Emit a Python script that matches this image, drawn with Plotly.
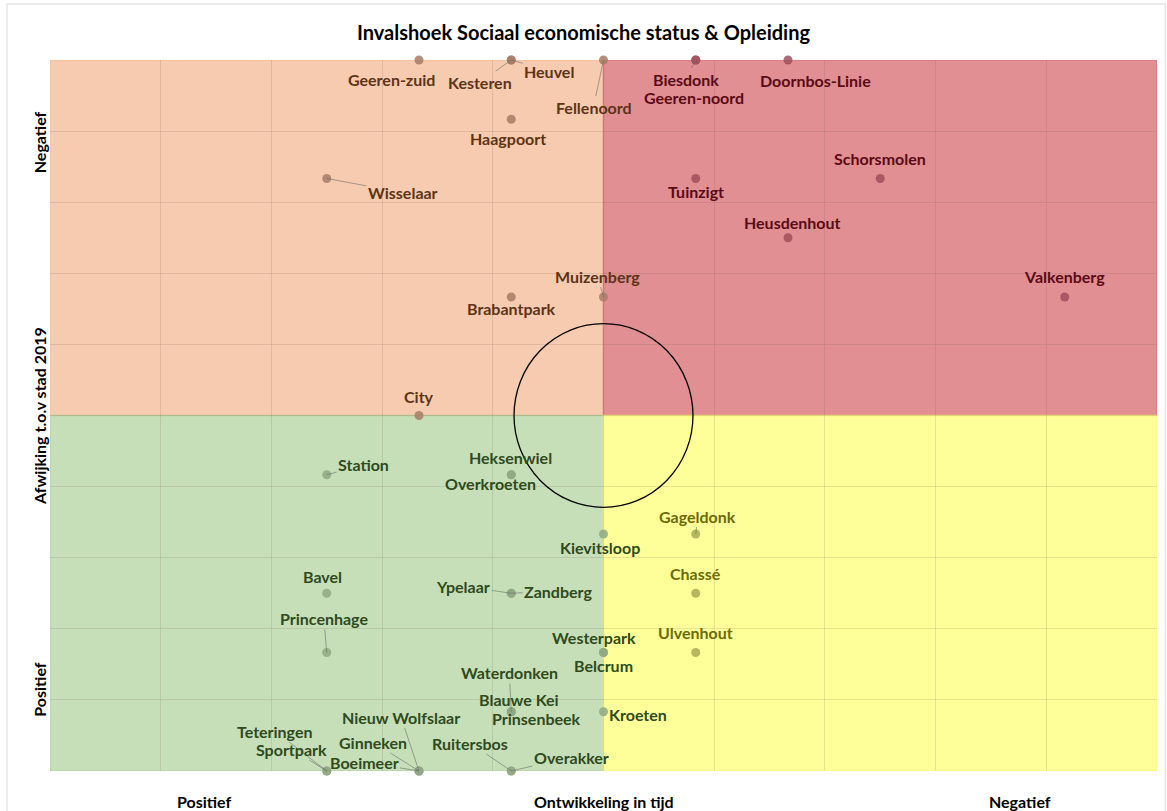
import plotly.graph_objects as go

# Wijken met positie (ontwikkeling in tijd, afwijking t.o.v. stad 2019)
wijken = ['Geeren-zuid', 'Kesteren', 'Heuvel', 'Fellenoord', 'Biesdonk', 'Geeren-noord',
          'Doornbos-Linie', 'Haagpoort', 'Wisselaar', 'Tuinzigt', 'Schorsmolen', 'Heusdenhout',
          'Valkenberg', 'Muizenberg', 'Brabantpark', 'City', 'Station', 'Heksenwiel',
          'Overkroeten', 'Kievitsloop', 'Gageldonk', 'Bavel', 'Ypelaar', 'Zandberg', 'Chassé',
          'Princenhage', 'Westerpark', 'Belcrum', 'Ulvenhout', 'Waterdonken', 'Blauwe Kei',
          'Prinsenbeek', 'Kroeten', 'Teteringen', 'Sportpark', 'Nieuw Wolfslaar', 'Ginneken',
          'Boeimeer', 'Ruitersbos', 'Overakker']
ontwikkeling = [-2, -1, -1, 0, 1, 1,
                2, -1, -3, 1, 3, 2,
                5, 0, -1, -2, -3, -1,
                -1, 0, 1, -3, -1, -1, 1,
                -3, 0, 0, 1, -1, -1,
                -1, 0, -3, -3, -2, -2,
                -2, -1, -1]
afwijking = [6, 6, 6, 6, 6, 6,
             6, 5, 4, 4, 4, 3,
             2, 2, 2, 0, -1, -1,
             -1, -2, -2, -3, -3, -3, -3,
             -4, -4, -4, -4, -5, -5,
             -5, -5, -6, -6, -6, -6,
             -6, -6, -6]

# label offsets in pixels (dx, dy) and whether a leader line is drawn
label_pos = {
    'Geeren-zuid': (-28, 19, False), 'Kesteren': (-31, 22, True), 'Heuvel': (38, 11, True),
    'Fellenoord': (-10, 47, True), 'Biesdonk': (-10, 19, True), 'Geeren-noord': (-2, 37, False),
    'Doornbos-Linie': (27, 20, False), 'Haagpoort': (-3, 19, False), 'Wisselaar': (76, 14, True),
    'Tuinzigt': (0, 13, False), 'Schorsmolen': (0, -20, False), 'Heusdenhout': (4, -15, False),
    'Valkenberg': (0, -21, False), 'Muizenberg': (-6, -21, True), 'Brabantpark': (0, 11, False),
    'City': (0, -19, False), 'Station': (37, -10, True), 'Heksenwiel': (-1, -17, False),
    'Overkroeten': (-21, 9, False), 'Kievitsloop': (-4, 13, False), 'Gageldonk': (2, -18, True),
    'Bavel': (-4, -17, False), 'Ypelaar': (-48, -7, True), 'Zandberg': (47, -2, True),
    'Chassé': (0, -20, False), 'Princenhage': (-3, -34, True), 'Westerpark': (-10, -15, False),
    'Belcrum': (0, 13, False), 'Ulvenhout': (0, -20, False), 'Waterdonken': (-2, -39, True),
    'Blauwe Kei': (8, -12, False), 'Prinsenbeek': (25, 7, False), 'Kroeten': (34, 3, False),
    'Teteringen': (-52, -40, True), 'Sportpark': (-35, -22, True), 'Nieuw Wolfslaar': (-18, -54, True),
    'Ginneken': (-46, -29, True), 'Boeimeer': (-55, -9, True), 'Ruitersbos': (-41, -28, True),
    'Overakker': (60, -14, True),
}

# kwadrant kleuren: (vlak, stip, tekst)
kleuren = {
    'lb': ('rgba(245,190,155,0.8)', '#a77d66', '#5c3418'),
    'rb': ('rgba(218,115,120,0.8)', '#a0505c', '#5a0a16'),
    'lo': ('rgba(175,210,155,0.7)', '#8fa882', '#2f4a1c'),
    'ro': ('rgba(255,255,120,0.75)', '#aaaa55', '#6b6b08'),
}

def kwadrant(x, y):
    if y >= 0:
        return 'lb' if x <= 0 else 'rb'
    return 'lo' if x <= 0 else 'ro'

fig = go.Figure()

# achtergrond vlakken
vlakken = [('lb', -6, 0, 0, 6), ('rb', 0, 0, 6, 6), ('lo', -6, -6, 0, 0), ('ro', 0, -6, 6, 0)]
for k, x0, y0, x1, y1 in vlakken:
    fig.add_shape(type='rect', x0=x0, y0=y0, x1=x1, y1=y1, layer='below',
                  fillcolor=kleuren[k][0], line=dict(color=kleuren[k][0], width=1.5))

# cirkel in het midden
fig.add_shape(type='circle', x0=-0.97, x1=0.97, y0=-1.55, y1=1.55,
              line=dict(color='black', width=1.3), layer='above')

stipkleur = [kleuren[kwadrant(x, y)][1] for x, y in zip(ontwikkeling, afwijking)]
fig.add_trace(go.Scatter(x=ontwikkeling, y=afwijking, mode='markers',
                         marker=dict(size=9, color=stipkleur, opacity=0.85),
                         text=wijken, hoverinfo='text', showlegend=False, cliponaxis=False))

for naam, x, y in zip(wijken, ontwikkeling, afwijking):
    dx, dy, lijn = label_pos[naam]
    fig.add_annotation(x=x, y=y, text=naam, ax=dx, ay=dy, showarrow=True,
                       arrowhead=0, arrowwidth=1,
                       arrowcolor='rgba(110,110,110,0.6)' if lijn else 'rgba(0,0,0,0)',
                       font=dict(family='Lato', size=16, color=kleuren[kwadrant(x, y)][2], weight='bold'))

# as-teksten
as_font = dict(family='Lato', size=16, color='black', weight='bold')
for tekst, px_ in [('Positief', 0.14), ('Ontwikkeling in tijd', 0.5), ('Negatief', 0.876)]:
    fig.add_annotation(xref='paper', yref='paper', x=px_, y=-0.043, text=tekst,
                       showarrow=False, font=as_font, xanchor='center', yanchor='middle')
for tekst, py_ in [('Negatief', 0.885), ('Afwijking t.o.v stad 2019', 0.5), ('Positief', 0.115)]:
    fig.add_annotation(xref='paper', yref='paper', x=-0.0095, y=py_, text=tekst, textangle=-90,
                       showarrow=False, font=as_font, xanchor='center', yanchor='middle')

# rand om de grafiek
fig.add_shape(type='rect', xref='paper', yref='paper', x0=-0.0388, x1=1.0075, y0=-0.07, y1=1.0788,
              line=dict(color='#e6e6e6', width=1.5), layer='below')

fig.update_layout(
    width=1167, height=811,
    margin=dict(l=50, r=10, t=60, b=40),
    paper_bgcolor='white', plot_bgcolor='white',
    title=dict(text='Invalshoek Sociaal economische status & Opleiding', x=0.5, xanchor='center',
               y=0.959, yanchor='middle',
               font=dict(family='Lato', size=20, color='black', weight='bold')),
    xaxis=dict(range=[-6, 6], tick0=-6, dtick=1.2, showticklabels=False, zeroline=False,
               gridcolor='rgba(120,100,90,0.18)', showline=False),
    yaxis=dict(range=[-6, 6], tick0=-6, dtick=1.2, showticklabels=False, zeroline=False,
               gridcolor='rgba(120,100,90,0.18)', showline=False),
)

fig.write_html('out.html', config={'displayModeBar': False},
               post_script="document.body.style.margin='0';")
